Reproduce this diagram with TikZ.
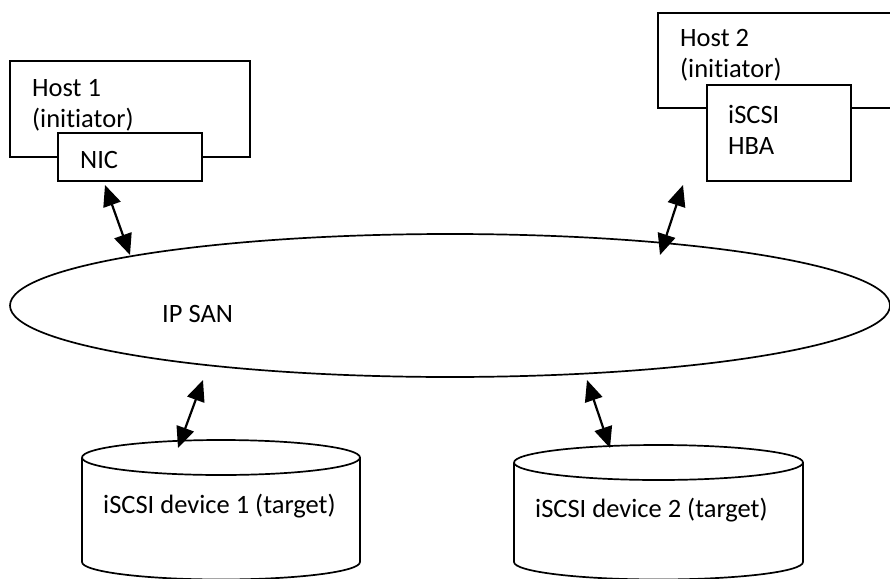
\documentclass[tikz,border=0pt]{standalone}
\usepackage{fontspec}
\setmainfont{Carlito}[Ligatures=NoCommon]
\usetikzlibrary{arrows.meta,shapes.geometric}
\begin{document}
\begin{tikzpicture}[x=1pt,y=-1pt,
  outline/.style={draw=black,line width=1.7pt},
  box/.style={outline,rectangle,inner sep=0pt,outer sep=0pt},
  label/.style={anchor=base west,inner sep=0pt,align=left,
    font=\fontsize{26.5}{30.5}\selectfont},
  link/.style={line width=2.2pt,{Triangle[length=21pt,width=18pt]}-{Triangle[length=21pt,width=18pt]}}]
\useasboundingbox (0,0) rectangle (890,578);
\clip (0,0) rectangle (890,578);
\fill[white] (0,0) rectangle (890,578);

% Host 1 with its network card
\node[box,minimum width=240pt,minimum height=96pt] (host1) at (130,109) {};
\node[box,fill=white,minimum width=144pt,minimum height=48pt] (nic) at (130,157) {};
\node[label] (host1txt) at (32,127) {Host 1\\(initiator)};
\node[label] (nictxt) at (80,168) {NIC};

% Host 2 with its iSCSI HBA (box runs past the right edge)
\node[box,minimum width=260pt,minimum height=95pt] (host2) at (788,60.5) {};
\node[box,fill=white,minimum width=144pt,minimum height=96pt] (hba) at (779,133) {};
\node[label] (host2txt) at (680,77) {Host 2\\(initiator)};
\node[label] (hbatxt) at (728,154) {iSCSI\\HBA};

% IP SAN cloud
\node[outline,ellipse,minimum width=880pt,minimum height=143pt,inner sep=0pt] (san) at (450,305.5) {};
\node[label] (santxt) at (162,322) {IP SAN};

% Storage targets
\draw[outline] (82,457.5) arc[start angle=180,end angle=-180,x radius=139,y radius=17.5];
\draw[outline] (82,457.5) -- (82,562) arc[start angle=180,end angle=360,x radius=139,y radius=-17.5] -- (360,457.5);
\node[label] (dev1txt) at (103,513) {iSCSI device 1 (target)};

\draw[outline] (514,462.5) arc[start angle=180,end angle=-180,x radius=144.5,y radius=17.5];
\draw[outline] (514,462.5) -- (514,562) arc[start angle=180,end angle=360,x radius=144.5,y radius=-17.5] -- (803,462.5);
\node[label] (dev2txt) at (535,517) {iSCSI device 2 (target)};

% Links between the devices and the SAN
\coordinate (h1a) at (105,185);
\coordinate (h1b) at (130,255);
\coordinate (h2a) at (683,185);
\coordinate (h2b) at (660,255);
\coordinate (d1a) at (203,380);
\coordinate (d1b) at (178,448);
\coordinate (d2a) at (587,380);
\coordinate (d2b) at (610,448);
\draw[link] (h1a) -- (h1b);
\draw[link] (h2a) -- (h2b);
\draw[link] (d1a) -- (d1b);
\draw[link] (d2a) -- (d2b);
\end{tikzpicture}
\end{document}
